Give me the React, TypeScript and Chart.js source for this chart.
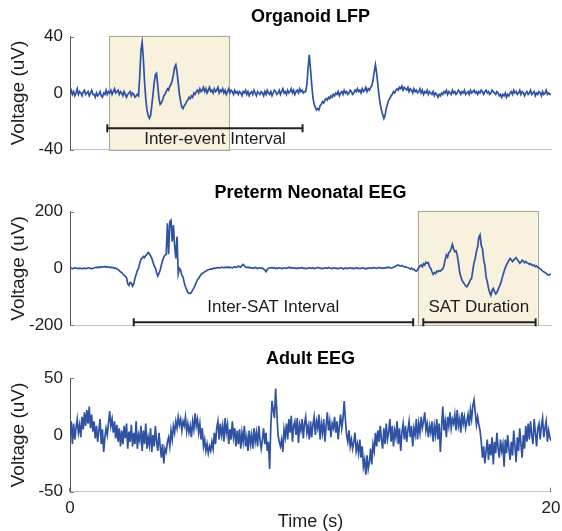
import React, { useEffect, useRef } from "react";
import { Chart, registerables } from "chart.js";

Chart.register(...registerables);

// ---------- data ----------
const TIME_MIN = 0;
const TIME_MAX = 20;
const SAMPLE_STEP = 0.05; // seconds between samples
const TIME_TICKS = [0, 20];

const PANEL_TITLES = ["Organoid LFP", "Preterm Neonatal EEG", "Adult EEG"];

const LFP_TICKS = [-40, 0, 40];
const NEONATAL_TICKS = [-200, 0, 200];
const ADULT_TICKS = [-50, 0, 50];

// Organoid LFP (uV), one value every 0.05 s
const LFP_VALUES = [
  0, 2, -1, 1, -2, 0, 3, -1, 1, 0, -2, 1, 2, -1, 0, 1, -2, 0, 2, -1,
  -1, -3, 0, -2, -1, 1, -2, -3, 0, -1, 2, -1, 1, 0, 2, -1, 1, 3, 0, 1,
  2, -1, 1, 0, -2, 1, -1, -3, -1, 0, 1, -2, 0, -1, -3, -2, -1, -2, 12, 30,
  36, 24, 8, -4, -12, -16, -18, -16, -9, -1, 7, 13, 14, 5, -4, -8, -7, -5, -2, -1,
  1, 3, 2, 5, 6, 9, 13, 18, 20, 15, 7, -1, -6, -10, -11, -9, -8, -6, -5, -3,
  -4, -2, -3, 0, -1, 1, 2, 0, 3, 1, 2, 4, 1, 3, 0, 2, 4, 1, 2, 0,
  3, 1, 2, 4, 0, 2, 1, 3, 0, 2, -1, 1, 3, 0, 2, 1, -1, 2, 0, 1,
  -1, 1, 0, -2, 1, 0, 2, -1, 1, -2, 0, 1, -1, 2, 0, -2, 1, 0, -1, 1,
  0, -2, 1, -1, 2, 0, -1, 1, -2, 0, 2, 1, -1, 0, 2, -1, 1, 3, 0, 1,
  -1, 2, 0, 1, 3, 0, 2, -1, 1, 2, 0, 3, 1, 2, 0, 1, 1, 6, 18, 27,
  17, 6, -3, -8, -10, -12, -11, -12, -9, -8, -6, -7, -5, -4, -5, -3, -4, -2, -3, -1,
  -2, 0, -1, 1, -2, 0, 1, -1, 2, 0, 1, -1, 0, 2, 1, -1, 0, 2, 1, 3,
  1, 2, 0, 3, 1, 2, 4, 1, 3, 2, 4, 5, 9, 15, 20, 14, 6, -2, -8, -12,
  -15, -18, -16, -11, -8, -5, -4, -2, -1, 1, 0, 2, 3, 2, 4, 3, 5, 2, 4, 3,
  2, 4, 1, 3, 2, 0, 3, 1, 2, 0, 1, 3, 0, 2, -1, 1, 0, 2, -1, 1,
  0, -1, 1, -2, 0, -1, -3, -1, -2, 0, -1, 1, 0, 2, -1, 1, 0, -1, 2, 0,
  1, -1, 0, 2, 1, -1, 1, 0, 2, -1, 0, 1, -1, 2, 0, 1, 2, 0, 1, -1,
  1, 0, 2, 1, -1, 1, 2, 0, 1, -1, 0, 2, 1, 0, -1, 1, 0, -2, -1, -3,
  -1, -2, 0, -3, -1, -2, 0, 1, -1, 2, 0, 1, -1, 0, 2, -1, 1, 0, -2, 0,
  1, -1, 0, 2, -1, 0, 1, -2, 0, -1, 1, 0, -2, 1, -1, 0, 2, -1, 0, -1,
  -1,
];

// Preterm neonatal EEG (uV), one value every 0.05 s
const NEONATAL_VALUES = [
  0, 1, -1, 0, 2, 1, 0, -1, 1, 0, -2, 0, 1, -1, 0, 2, 1, 0, -1, 0,
  1, 3, 4, 2, 5, 3, 6, 4, 5, 7, 4, 6, 5, 3, 4, 2, 3, 0, 1, -2,
  -4, -8, -12, -15, -20, -24, -28, -33, -55, -60, -50, -52, -63, -55, -36, -22, -8, 0, 18, 32,
  36, 42, 38, 45, 50, 56, 52, 44, 35, 22, 8, 2, -15, -27, -18, -6, 12, 28, 40, 47,
  50, 159, 50, 165, 170, 94, 153, 80, 35, 112, -20, 0, -5, -25, -30, -50, -65, -75, -85, -88,
  -88, -85, -76, -70, -60, -50, -40, -35, -28, -22, -18, -16, -12, -10, -7, -5, -4, -2, -3, 0,
  1, 0, 2, 3, 1, 2, 4, 3, 2, 4, 3, 5, 2, 4, 3, 2, 4, 6, 3, 5,
  8, 6, 4, 10, 14, 9, 5, 3, 4, 2, 3, 1, 2, 0, 3, 2, -1, 1, 2, 0,
  1, -2, -6, -12, -4, 0, 2, 1, 3, 0, 2, -1, 1, 0, 2, 1, -1, 0, 2, 1,
  0, 2, 4, 1, 3, 0, 2, 1, -1, 1, 0, 2, 1, 3, 0, 1, -1, 0, 1, 2,
  1, 0, 2, -1, 0, 1, 3, 2, 0, 1, -1, 0, 2, 1, 0, 3, 1, 0, -1, 1,
  2, 0, 1, -1, 0, 2, 1, -2, 0, 1, 0, -1, 1, 2, 0, 1, -1, 0, 2, 0,
  1, -1, 0, 2, 1, 0, -2, 1, 0, 2, 1, 0, 3, 1, 2, 0, 1, 3, 2, 1,
  0, 2, 1, 3, 2, 4, 3, 1, 2, 4, 6, 8, 10, 12, 9, 8, 10, 7, 5, 6,
  4, 3, 0, -2, 1, -4, -3, -8, -10, -6, 2, 8, 12, 6, 16, 12, 22, 18, 20, 5,
  0, -12, -21, -15, -18, -10, -12, -8, -10, -5, -3, 10, 30, 47, 40, 55, 59, 70, 85, 68,
  59, 62, 47, 20, -12, -30, -42, -49, -55, -62, -65, -58, -50, -40, -35, -5, 20, 35, 60, 76,
  110, 118, 80, 70, 30, 12, -30, -47, -70, -85, -95, -78, -71, -82, -90, -85, -75, -65, -55, -40,
  -24, -10, 2, 12, 20, 28, 35, 30, 24, 29, 34, 38, 30, 25, 18, 22, 29, 26, 20, 24,
  20, 18, 14, 16, 12, 10, 12, 6, 8, 4, 2, -2, -5, -10, -12, -15, -18, -22, -24, -22,
  -20,
];

// Adult EEG (uV), one value every 0.05 s
const ADULT_VALUES = [
  0, 12, -8, 10, -4, 6, 14, 2, 9, -2, 16, 5, 20, 8, 22, 10, 25, 6, 18, 3,
  12, -3, 8, -6, 4, 14, -8, 5, -15, -2, 6, 0, 10, 21, 8, 14, 2, 12, -3, 9,
  -6, 6, -10, 4, -8, 8, -3, 10, -12, 3, -6, 9, -10, 2, -8, 12, -12, 0, -5, 8,
  -14, 4, -8, 10, -12, -2, -9, 6, -15, 0, -10, 8, -6, -14, 2, -10, -20, -8, -25, -12,
  -15, -6, -2, -10, 4, -4, 8, 2, 12, 6, 16, 9, 14, 4, 12, 8, 16, 3, 10, 2,
  8, -2, 12, 5, 19, 8, 14, 2, 10, -4, 6, -10, -4, -14, -8, -16, -10, -14, -6, -12,
  2, -8, 6, 12, -4, 10, 0, 8, -6, 15, 2, 9, -8, 5, -4, 12, -2, 6, -10, 4,
  -8, 5, -12, 2, -6, 8, -10, -2, -14, 4, -8, 0, -12, 6, -6, 2, -10, 8, -4, -12,
  -4, 6, -8, 2, -14, -6, -30, 8, 30, 22, 15, 41, 20, 0, -6, -10, -4, -15, 5, -2,
  10, -4, 14, 2, 17, -6, 8, 12, 0, 15, -7, 9, 4, 14, -3, 10, 16, 2, 8, -4,
  12, -2, 9, 16, 0, 12, 6, 18, -4, 10, 2, 14, -6, 8, 20, 4, 12, -2, 10, 6,
  16, 2, 12, -4, 8, 18, 6, 14, 30, 14, 0, -6, 4, -10, -4, -12, -6, 2, -14, -8,
  -16, -4, -20, -10, -28, -22, -35, -18, -30, -24, -12, -26, -8, -14, 2, -10, 4, -6, 8, -4,
  -12, 6, -8, 10, -4, 2, 14, -6, 8, -10, 4, -2, 12, -8, 6, -14, 2, 10, -4, 8,
  -6, 4, 12, -2, 8, -10, 6, 0, 14, -4, 10, 2, 16, 6, 12, 20, 4, 10, -2, 8,
  2, 12, -6, 8, 0, 14, -4, 10, -15, 6, 25, 4, 12, -2, 16, 8, 20, 6, 14, 10,
  18, 4, 22, 8, 14, 2, 20, 10, 16, 6, 12, 18, 8, 22, 14, 26, 31, 20, 9, 16,
  9, 4, -6, -20, -10, -25, -14, -4, -22, -8, -18, -2, -26, -6, -16, 2, -12, -20, -4, -14,
  -8, -28, -4, -16, 0, -12, -22, -6, -18, 4, -10, -24, -2, -14, 6, -8, -20, 0, -12, 8,
  -6, 10, -4, 12, 0, -8, 14, 2, -10, 6, 10, -4, 8, 15, -2, 6, 12, -6, 4, -2,
  -5,
];

// annotations (time in s, level in uV)
const LFP_HIGHLIGHTS = [{ from: 1.64, to: 6.65 }];
const NEONATAL_HIGHLIGHTS = [{ from: 14.46, to: 19.43 }];
const LFP_INTERVALS = [{ from: 1.55, to: 9.67, level: -25 }];
const NEONATAL_INTERVALS = [
  { from: 2.65, to: 14.27, level: -190 },
  { from: 14.69, to: 19.36, level: -190 },
];
const LFP_LABELS = [{ text: "Inter-event Interval", at: 6.03, level: -33 }];
const NEONATAL_LABELS = [
  { text: "Inter-SAT Interval", at: 8.45, level: -136 },
  { text: "SAT Duration", at: 17.0, level: -136 },
];

// ---------- styling ----------
const FONT = "'Liberation Sans', Arial, Helvetica, sans-serif";
const LINE_COLOR = "#2f52a3";
const TEXT_COLOR = "#1c1c1c";

type Highlight = { from: number; to: number };
type Interval = { from: number; to: number; level: number };
type Label = { text: string; at: number; level: number };

interface PanelProps {
  top: number;
  height: number;
  areaTop: number;
  areaBottom: number;
  title: string;
  values: number[];
  yTicks: number[];
  highlights?: Highlight[];
  intervals?: Interval[];
  labels?: Label[];
  showTime?: boolean;
}

function Panel(props: PanelProps) {
  const ref = useRef<HTMLCanvasElement | null>(null);

  useEffect(() => {
    const canvas = ref.current;
    if (!canvas) return;
    const {
      height, areaTop, areaBottom, title, values, yTicks,
      highlights = [], intervals = [], labels = [], showTime = false,
    } = props;

    const decor = {
      id: "decor",
      beforeDatasetsDraw(chart: any) {
        const { ctx, chartArea, scales } = chart;
        ctx.save();
        for (const h of highlights) {
          const x0 = scales.x.getPixelForValue(h.from);
          const x1 = scales.x.getPixelForValue(h.to);
          const y0 = chartArea.top - 1;
          const y1 = chartArea.bottom;
          ctx.fillStyle = "#f7f1dd";
          ctx.fillRect(x0, y0, x1 - x0, y1 - y0);
          ctx.strokeStyle = "#aaa596";
          ctx.lineWidth = 1;
          ctx.strokeRect(Math.round(x0) + 0.5, Math.round(y0) + 0.5, Math.round(x1 - x0), Math.round(y1 - y0));
        }
        // small inward tick marks (MATLAB style)
        ctx.strokeStyle = "#777";
        ctx.lineWidth = 1;
        ctx.beginPath();
        for (const v of yTicks) {
          const y = Math.round(scales.y.getPixelForValue(v)) + 0.5;
          ctx.moveTo(chartArea.left, y);
          ctx.lineTo(chartArea.left + 4, y);
        }
        if (showTime) {
          for (const t of TIME_TICKS) {
            const x = Math.round(scales.x.getPixelForValue(t)) - 0.5;
            ctx.moveTo(x, chartArea.bottom);
            ctx.lineTo(x, chartArea.bottom - 4);
          }
        }
        ctx.stroke();
        ctx.restore();
      },
      afterDatasetsDraw(chart: any) {
        const { ctx, chartArea, scales } = chart;
        ctx.save();
        for (const iv of intervals) {
          const x0 = scales.x.getPixelForValue(iv.from);
          const x1 = scales.x.getPixelForValue(iv.to);
          const y = scales.y.getPixelForValue(iv.level);
          ctx.strokeStyle = "#222";
          ctx.lineWidth = 2;
          ctx.beginPath();
          ctx.moveTo(x0, y);
          ctx.lineTo(x1, y);
          ctx.moveTo(x0, y - 4);
          ctx.lineTo(x0, y + 4);
          ctx.moveTo(x1, y - 4);
          ctx.lineTo(x1, y + 4);
          ctx.stroke();
        }
        ctx.fillStyle = TEXT_COLOR;
        ctx.font = `17px ${FONT}`;
        ctx.textAlign = "center";
        ctx.textBaseline = "middle";
        for (const lb of labels) {
          ctx.fillText(lb.text, scales.x.getPixelForValue(lb.at), scales.y.getPixelForValue(lb.level));
        }
        ctx.fillStyle = "#000";
        ctx.font = `bold 18px ${FONT}`;
        ctx.fillText(title, (chartArea.left + chartArea.right) / 2, chartArea.top - 19);
        ctx.restore();
      },
    };

    const chart = new Chart(canvas, {
      type: "line",
      data: {
        datasets: [
          {
            data: values.map((v, i) => ({ x: TIME_MIN + i * SAMPLE_STEP, y: v })),
            borderColor: LINE_COLOR,
            borderWidth: 1.7,
            pointRadius: 0,
            tension: 0,
            fill: false,
          },
        ],
      },
      options: {
        animation: false,
        responsive: false,
        events: [],
        layout: { padding: { top: areaTop, right: 11, left: 0, bottom: 0 } },
        plugins: { legend: { display: false }, tooltip: { enabled: false }, title: { display: false } },
        scales: {
          x: {
            type: "linear",
            min: TIME_MIN,
            max: TIME_MAX,
            grid: { display: true, drawOnChartArea: false, drawTicks: false, color: "rgba(0,0,0,0)" },
            border: { display: true, color: "#c4c4c4", width: 1 },
            ticks: {
              display: showTime,
              font: { family: FONT, size: 17 },
              color: TEXT_COLOR,
              padding: 6,
              maxRotation: 0,
              autoSkip: false,
            },
            afterBuildTicks: (s: any) => {
              s.ticks = TIME_TICKS.map((v) => ({ value: v }));
            },
            afterFit: (s: any) => {
              s.height = height - areaBottom;
              s.paddingLeft = 0;
              s.paddingRight = 0;
            },
            title: {
              display: showTime,
              text: "Time (s)",
              font: { family: FONT, size: 18, lineHeight: 1 },
              color: TEXT_COLOR,
              padding: { top: 0, bottom: 0 },
            },
          },
          y: {
            type: "linear",
            min: yTicks[0],
            max: yTicks[yTicks.length - 1],
            grid: { display: true, drawOnChartArea: false, drawTicks: false, color: "rgba(0,0,0,0)" },
            border: { display: true, color: "#555", width: 1 },
            ticks: {
              font: { family: FONT, size: 17 },
              color: TEXT_COLOR,
              padding: 7,
              autoSkip: false,
            },
            afterBuildTicks: (s: any) => {
              s.ticks = yTicks.map((v) => ({ value: v }));
            },
            afterFit: (s: any) => {
              s.width = 70;
              s.paddingTop = 0;
              s.paddingBottom = 0;
            },
            title: {
              display: true,
              text: "Voltage (uV)",
              font: { family: FONT, size: 19, lineHeight: 1 },
              color: TEXT_COLOR,
              padding: { top: 9.5, bottom: 0 },
            },
          },
        },
      } as any,
      plugins: [decor],
    });
    return () => chart.destroy();
  }, []);

  return (
    <canvas
      ref={ref}
      width={562}
      height={props.height}
      style={{ position: "absolute", left: 0, top: props.top, width: 562, height: props.height, display: "block" }}
    />
  );
}

export default function App() {
  return (
    <div style={{ position: "absolute", left: 0, top: 0, width: 562, height: 531, background: "#fff", overflow: "hidden" }}>
      <Panel
        top={0}
        height={170}
        areaTop={36.5}
        areaBottom={149.5}
        title={PANEL_TITLES[0]}
        values={LFP_VALUES}
        yTicks={LFP_TICKS}
        highlights={LFP_HIGHLIGHTS}
        intervals={LFP_INTERVALS}
        labels={LFP_LABELS}
      />
      <Panel
        top={170}
        height={168}
        areaTop={41.7}
        areaBottom={155}
        title={PANEL_TITLES[1]}
        values={NEONATAL_VALUES}
        yTicks={NEONATAL_TICKS}
        highlights={NEONATAL_HIGHLIGHTS}
        intervals={NEONATAL_INTERVALS}
        labels={NEONATAL_LABELS}
      />
      <Panel
        top={338}
        height={193}
        areaTop={40.3}
        areaBottom={153.7}
        title={PANEL_TITLES[2]}
        values={ADULT_VALUES}
        yTicks={ADULT_TICKS}
        showTime
      />
    </div>
  );
}
